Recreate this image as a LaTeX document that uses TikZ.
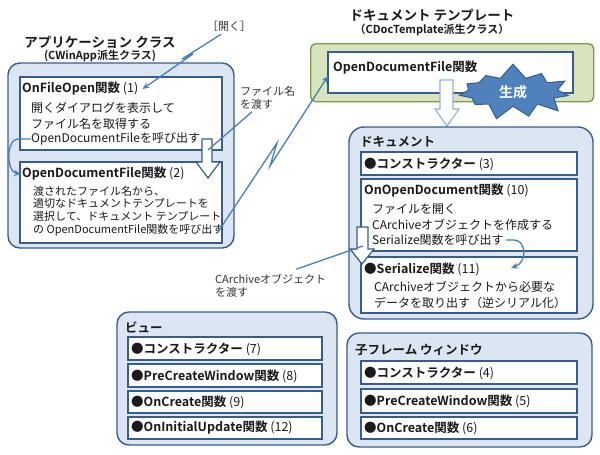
\documentclass[tikz,border=0pt]{standalone}
\usepackage{fontspec}
\setmainfont{Noto Sans CJK JP}[BoldFont={Noto Sans CJK JP Bold}]
\usepackage{tikz}
\usetikzlibrary{arrows.meta}
\usetikzlibrary{shapes.symbols}
\usepackage{xcolor}
\definecolor{boxblue}{HTML}{385D8A}
\definecolor{paleblue}{HTML}{DCE6F2}
\definecolor{linkblue}{HTML}{4A7EBB}
\definecolor{palegreen}{HTML}{D7E4BD}
\definecolor{olive}{HTML}{7F9A4E}
\definecolor{burstblue}{HTML}{4F81BD}
\definecolor{lightarrow}{HTML}{95B3D7}
\definecolor{ink}{HTML}{1A1A1A}

\begin{document}
\begin{tikzpicture}[x=1pt,y=-1pt,
    outerbox/.style={draw=boxblue, fill=paleblue, line width=1.4pt, rounded corners=12pt,
      anchor=north west, inner sep=0pt, outer sep=0pt},
    innerbox/.style={draw=boxblue, fill=white, line width=1.4pt,
      anchor=north west, inner sep=0pt, outer sep=0pt},
    hollow/.style={draw=boxblue, fill=white, line width=1.2pt, line join=miter},
    txt/.style={anchor=west, inner sep=0pt, text=ink, font=\fontsize{12}{15.5}\selectfont, align=left},
    small/.style={anchor=west, inner sep=0pt, text=ink, font=\fontsize{11}{12.8}\selectfont, align=left},
    head/.style={anchor=west, inner sep=0pt, text=ink, font=\fontsize{12.5}{14}\selectfont},
    title/.style={inner sep=0pt, text=ink, font=\bfseries\fontsize{13.5}{15}\selectfont},
    subtitle/.style={inner sep=0pt, text=ink, font=\bfseries\fontsize{11}{13}\selectfont},
    note/.style={anchor=west, inner sep=0pt, text=black!80, font=\fontsize{11}{13}\selectfont, align=left},
    callout/.style={draw=linkblue, line width=1.3pt},
    link/.style={draw=linkblue, line width=1.3pt, -{Stealth[length=7pt,width=6pt]}}]
  \useasboundingbox (0,0) rectangle (600,455);
  %% application class
  \node[title] (apptitle) at (100,42) {アプリケーション クラス};
  \node[subtitle] (appsub) at (100,56) {(CWinApp派生クラス)};
  \node[outerbox, minimum width=226pt, minimum height=185pt] (app) at (8,63) {};
  \node[innerbox, minimum width=202pt, minimum height=73pt] (fo1) at (20,77) {};
  \node[innerbox, minimum width=202pt, minimum height=81pt] (odf2) at (20,162) {};
  \node[head] (fo1title) at (22,89) {\bfseries OnFileOpen関数\mdseries\ (1)};
  \node[txt] (fo1text) at (31,116) {開くダイアログを表示して\\ファイル名を取得する};
  \node[txt] (fo1call) at (31,139) {OpenDocumentFileを呼び出す};
  \node[head] (odf2title) at (22,174) {\bfseries OpenDocumentFile関数\mdseries\ (2)};
  \node[small] (odf2text) at (33,211) {渡されたファイル名から、\\適切なドキュメントテンプレートを\\選択して、ドキュメント テンプレート\\の OpenDocumentFile関数を呼び出す};
  \draw[hollow] (202,139) -- (212,139) -- (212,162) -- (220,162) -- (208,178) -- (196,162) -- (202,162) -- cycle;
  \coordinate (harrow1) at (208,150);
  \coordinate (odfcall) at (218,232);
  %% document template
  \node[title] (tmpltitle) at (432,15) {ドキュメント テンプレート};
  \node[subtitle] (tmplsub) at (432,30) {（CDocTemplate派生クラス）};
  \node[draw=olive, fill=palegreen, line width=1.4pt, rounded corners=5pt, anchor=north west,
    inner sep=0pt, minimum width=283pt, minimum height=58pt] (tmpl) at (310,43) {};
  \node[innerbox, minimum width=245pt, minimum height=41pt] (tmplodf) at (328,52) {};
  \node[head] (tmplodftitle) at (333,68) {\bfseries OpenDocumentFile関数};
  \draw[draw=lightarrow, fill=white, line width=1.2pt] (440,80) -- (453,80) -- (453,109) -- (459,109)
    -- (447,126) -- (435,109) -- (440,109) -- cycle;
  \node[starburst, starburst points=11, starburst point height=15pt, random starburst=7,
    fill=burstblue, draw=boxblue, line width=1pt, text=white, minimum width=120pt, minimum height=42pt,
    font=\bfseries\fontsize{14}{14}\selectfont] (gen) at (513,92) {生成};
  %% document
  \node[outerbox, rounded corners=15pt, minimum width=244pt, minimum height=192pt] (doc) at (349,127) {};
  \node[head, font=\bfseries\fontsize{12.5}{14}\selectfont] (doctitle) at (360,142) {ドキュメント};
  \node[innerbox, minimum width=216pt, minimum height=23pt] (ctor3) at (361,152) {};
  \node[innerbox, minimum width=216pt, minimum height=72pt] (ood10) at (361,179) {};
  \node[innerbox, minimum width=216pt, minimum height=56pt] (ser11) at (361,257) {};
  \node[head] (ctor3title) at (364,164) {\bfseries ●コンストラクター\mdseries\ (3)};
  \node[head] (ood10title) at (364,191) {\bfseries OnOpenDocument関数\mdseries\ (10)};
  \node[txt] (ood10text) at (372,217) {ファイルを開く\\CArchiveオブジェクトを作成する};
  \node[txt] (ood10call) at (372,240) {Serialize関数を呼び出す};
  \draw[hollow] (357,227) -- (368,227) -- (368,249) -- (374,249) -- (362,264) -- (350,249) -- (357,249) -- cycle;
  \coordinate (harrow3) at (363,246);
  \node[head] (ser11title) at (364,269) {\bfseries ●Serialize関数\mdseries\ (11)};
  \node[txt] (ser11text) at (374,295) {CArchiveオブジェクトから必要な\\データを取り出す（逆シリアル化）};
  %% view
  \node[outerbox, minimum width=220pt, minimum height=133pt] (view) at (117,312) {};
  \node[head, font=\bfseries\fontsize{12.5}{14}\selectfont] (viewtitle) at (125,327) {ビュー};
  \node[innerbox, minimum width=194pt, minimum height=23pt] (v7) at (128,337) {};
  \node[innerbox, minimum width=194pt, minimum height=23pt] (v8) at (128,364) {};
  \node[innerbox, minimum width=194pt, minimum height=22pt] (v9) at (128,391) {};
  \node[innerbox, minimum width=194pt, minimum height=22pt] (v12) at (128,417) {};
  \node[head] (v7title) at (131,349) {\bfseries ●コンストラクター\mdseries\ (7)};
  \node[head] (v8title) at (131,376) {\bfseries ●PreCreateWindow関数\mdseries\ (8)};
  \node[head] (v9title) at (131,402) {\bfseries ●OnCreate関数\mdseries\ (9)};
  \node[head] (v12title) at (131,428) {\bfseries ●OnInitialUpdate関数\mdseries\ (12)};
  %% child frame window
  \node[outerbox, minimum width=245pt, minimum height=114pt] (child) at (347,333) {};
  \node[head, font=\bfseries\fontsize{12.5}{14}\selectfont] (childtitle) at (355,350) {子フレーム ウィンドウ};
  \node[innerbox, minimum width=216pt, minimum height=23pt] (c4) at (361,361) {};
  \node[innerbox, minimum width=216pt, minimum height=24pt] (c5) at (361,389) {};
  \node[innerbox, minimum width=216pt, minimum height=22pt] (c6) at (361,417) {};
  \node[head] (c4title) at (364,373) {\bfseries ●コンストラクター\mdseries\ (4)};
  \node[head] (c5title) at (364,401) {\bfseries ●PreCreateWindow関数\mdseries\ (5)};
  \node[head] (c6title) at (364,428) {\bfseries ●OnCreate関数\mdseries\ (6)};
  %% labels and connectors
  \node[inner sep=0pt, text=black!80, font=\fontsize{11}{13}\selectfont] (openlbl) at (229,26) {［開く］};
  \node[note] (fnlbl) at (240,98) {ファイル名\\を渡す};
  \node[note] (arclbl) at (215,286) {CArchiveオブジェクト\\を渡す};
  \draw[link] ([xshift=-8pt,yshift=-3pt]openlbl.south) -- (182,59) -- (193,54) -- ([xshift=4pt]fo1title.east);
  \draw[link] (fo1call.west) -- (18,139) .. controls (6,139) and (6,172) .. ([xshift=-1pt]odf2title.west);
  \draw[callout] ([xshift=12pt,yshift=-2pt]fnlbl.south west) -- (harrow1);
  \draw[link] (odfcall) -- (277,143) -- (270,166) -- ([shift={(0,24)}]tmplodf.north west);
  \draw[callout] (arclbl.north east) ++(-30,-5) -- (harrow3);
  \draw[link] ([xshift=2pt]ood10call.east) -- (514,240) .. controls (526,240) and (528,262) .. (511,268);
\end{tikzpicture}
\end{document}
